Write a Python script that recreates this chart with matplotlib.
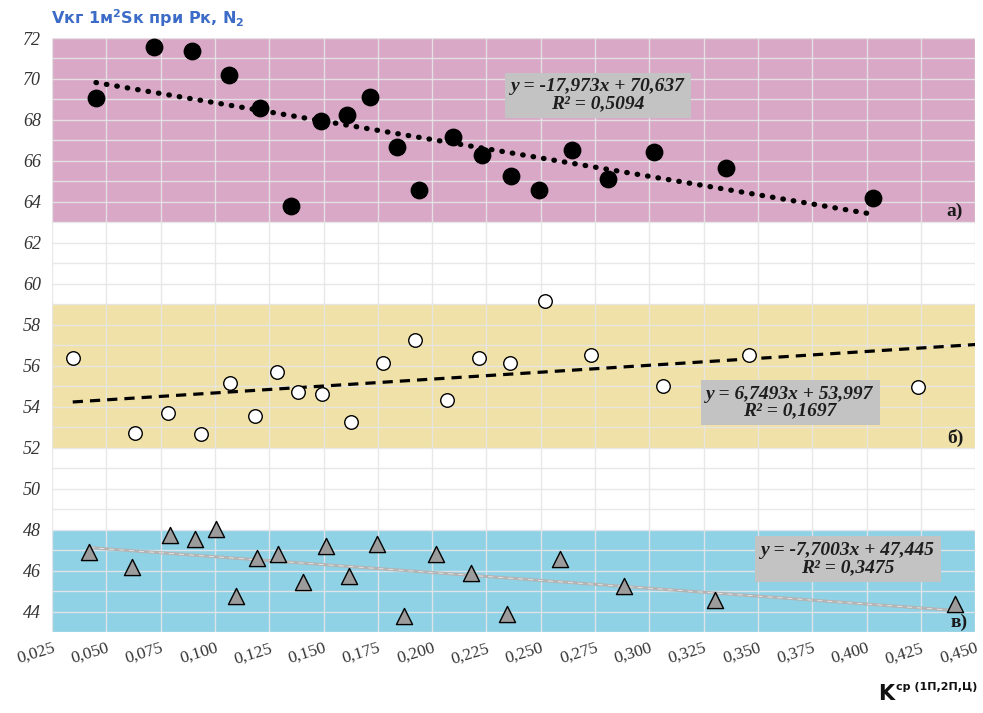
import matplotlib
matplotlib.use("Agg")
import matplotlib.pyplot as plt
from matplotlib.ticker import MultipleLocator, FuncFormatter
import numpy as np

# Series a) — filled black circles
xa = [0.0452, 0.0717, 0.0896, 0.1065, 0.1207, 0.1349, 0.1490, 0.1606, 0.1716, 0.1839,
      0.1940, 0.2096, 0.2228, 0.2361, 0.2490, 0.2645, 0.2810, 0.3020, 0.3355, 0.4028]
ya = [69.07, 71.56, 71.36, 70.19, 68.58, 63.79, 67.94, 68.23, 69.11, 66.67,
      64.57, 67.16, 66.28, 65.25, 64.57, 66.52, 65.11, 66.43, 65.64, 64.18]

# Series б) — open circles
xb = [0.0345, 0.0630, 0.0783, 0.0936, 0.1067, 0.1183, 0.1286, 0.1380, 0.1493, 0.1624,
      0.1774, 0.1920, 0.2070, 0.2216, 0.2358, 0.2518, 0.2732, 0.3065, 0.3459, 0.4238]
yb = [56.39, 52.70, 53.70, 52.65, 55.16, 53.53, 55.70, 54.74, 54.63, 53.24,
      56.11, 57.27, 54.35, 56.40, 56.11, 59.14, 56.50, 55.03, 56.50, 54.98]

# Series в) — grey triangles
xc = [0.0421, 0.0620, 0.0795, 0.0910, 0.1004, 0.1096, 0.1195, 0.1291, 0.1406, 0.1511,
      0.1615, 0.1744, 0.1871, 0.2019, 0.2177, 0.2345, 0.2589, 0.2882, 0.3301, 0.4408]
yc = [46.93, 46.18, 47.73, 47.52, 48.02, 44.78, 46.59, 46.83, 45.45, 47.19,
      45.73, 47.32, 43.77, 46.80, 45.89, 43.88, 46.54, 45.25, 44.55, 44.36]

# Linear trends: (slope, intercept, R²)
trend_a = (-17.973, 70.637, 0.5094)
trend_b = (6.7493, 53.997, 0.1697)
trend_c = (-7.7003, 47.445, 0.3475)

# Shaded bands for each group
bands = [(63, 72, "#d9a8c6"), (52, 59, "#f0e1a8"), (43, 48, "#8fd2e6")]

fig = plt.figure(figsize=(9.83, 7.13), dpi=100)
ax = fig.add_axes([0.053, 0.1136, 0.939, 0.8331])

xmin, xmax = 0.025, 0.45
ax.set_xlim(xmin, xmax)
ax.set_ylim(43, 72)

for lo, hi, col in bands:
    ax.axhspan(lo, hi, color=col, zorder=0, lw=0)

ax.xaxis.set_major_locator(MultipleLocator(0.025))
ax.yaxis.set_major_locator(MultipleLocator(2))
ax.yaxis.set_minor_locator(MultipleLocator(1))
ax.grid(True, which="both", color="#e6e6e6", lw=1.0, alpha=0.9, zorder=1)
ax.set_axisbelow(True)
for s in ax.spines.values():
    s.set_visible(False)
ax.tick_params(which="both", length=0)

ax.xaxis.set_major_formatter(FuncFormatter(lambda v, p: f"{v:.3f}".replace(".", ",")))
ax.yaxis.set_major_formatter(FuncFormatter(lambda v, p: f"{v:.0f}"))
for lab in ax.get_yticklabels():
    lab.set_fontfamily("Liberation Serif")
    lab.set_fontstyle("italic")
    lab.set_fontsize(13)
    lab.set_color("#333333")
ax.tick_params(axis="y", pad=8)
ax.tick_params(axis="x", pad=6)
plt.setp(ax.get_xticklabels(), rotation=17, ha="right", rotation_mode="anchor",
         fontfamily="Liberation Serif", fontsize=12.5, color="#333333")

# trend lines
xs = np.array([min(xa), max(xa)])
ax.plot(xs, trend_a[0] * xs + trend_a[1], color="black", lw=3.8,
        linestyle=(0, (0.1, 1.9)), dash_capstyle="round", zorder=3)
xs = np.array([min(xb), xmax])
ax.plot(xs, trend_b[0] * xs + trend_b[1], color="black", lw=2.3,
        linestyle=(0, (3.2, 2.2)), zorder=3)
xs = np.array([min(xc), max(xc)])
ax.plot(xs, trend_c[0] * xs + trend_c[1], color="#b4b4b4", lw=2.2, zorder=3)
ax.plot(xs, trend_c[0] * xs + trend_c[1], color="#e8e8e8", lw=0.6,
        linestyle=(0, (6, 6)), zorder=3)

# data points
ax.scatter(xa, ya, s=140, color="black", zorder=4)
ax.scatter(xb, yb, s=95, facecolor="white", edgecolor="black", lw=1.0, zorder=4)
ax.scatter(xc, yc, s=135, marker="^", facecolor="#9c9c9c", edgecolor="black",
           lw=1.0, zorder=4)

# regression equations
def eq_text(x, y, tr):
    m, b, r2 = tr
    fmt = lambda v, d: f"{v:.{d}f}".replace(".", ",")
    sign = "-" if m < 0 else ""
    txt = f"y = {sign}{fmt(abs(m), 4 if abs(m) < 10 else 3)}x + {fmt(b, 3)}\nR² = {fmt(r2, 4)}"
    ax.text(x, y, txt, ha="center", va="center", fontfamily="Liberation Serif",
            fontstyle="italic", fontweight="bold", fontsize=14, color="#1e1e1e",
            linespacing=1.0, zorder=5,
            bbox=dict(boxstyle="square,pad=0.3", fc="#c3c3c3", ec="none"))

eq_text(0.2764, 69.2, trend_a)
eq_text(0.3648, 54.2, trend_b)
eq_text(0.3914, 46.55, trend_c)

# group labels
lab_kw = dict(ha="right", va="center", fontfamily="Liberation Serif",
              fontweight="bold", fontsize=14, color="#1a1a1a", zorder=5)
ax.text(0.4445, 63.55, "а)", **lab_kw)
ax.text(0.4445, 52.45, "б)", **lab_kw)
ax.text(0.4465, 43.45, "в)", **lab_kw)

# axis titles
fig.text(0.052, 0.974, "Vкг 1м$^{\\mathbf{2}}$Sк при Рк, N$_{\\mathbf{2}}$", ha="left", va="center",
         fontsize=11.5, fontweight="bold", color="#3d6cc8", family="DejaVu Sans")
fig.text(0.893, 0.026, "K", ha="left", va="center", fontsize=15, fontweight="bold",
         color="#111111", family="DejaVu Sans")
fig.text(0.911, 0.036, "ср (1П,2П,Ц)", ha="left", va="center", fontsize=8,
         fontweight="bold", color="#111111", family="DejaVu Sans")

fig.savefig("out.png", dpi=100, facecolor="white")
